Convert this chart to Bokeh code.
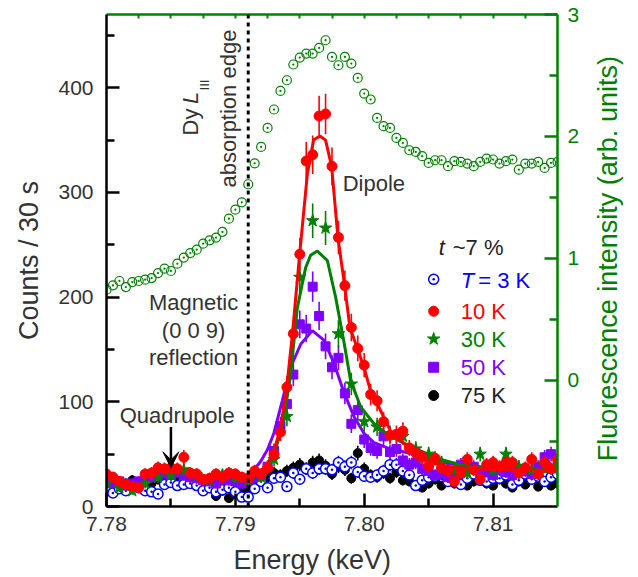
import math
import numpy as np
from bokeh.plotting import figure
from bokeh.layouts import row, column
from bokeh.core.properties import value
from bokeh.models import (Range1d, LinearAxis, FixedTicker, PrintfTickFormatter,
                          Span, Label, Arrow, VeeHead)
from bokeh.embed import file_html
from bokeh.resources import INLINE

# ---------------- data ----------------
energy = np.round(7.78 + 0.0005 * np.arange(71), 4)   # scan grid (keV)
energy_30K = energy[::2]

fluorescence = [0.744, 0.779, 0.815, 0.765, 0.806, 0.815, 0.826, 0.839, 0.880, 0.916,
                0.897, 0.957, 1.007, 1.044, 1.072, 1.121, 1.148, 1.171, 1.217, 1.326,
                1.400, 1.460, 1.608, 1.780, 1.914, 2.070, 2.221, 2.373, 2.461, 2.590,
                2.647, 2.680, 2.680, 2.726, 2.789, 2.652, 2.584, 2.652, 2.598, 2.480,
                2.352, 2.303, 2.152, 2.084, 2.070, 1.988, 1.947, 1.887, 1.873, 1.838,
                1.783, 1.805, 1.805, 1.756, 1.797, 1.791, 1.778, 1.756, 1.791, 1.819,
                1.811, 1.778, 1.797, 1.811, 1.728, 1.778, 1.778, 1.791, 1.742, 1.783,
                1.791]

counts_10K = [31, 28, 24, 21, 19, 18, 31, 32, 37, 36,
              37, 36, 47, 32, 31, 26, 27, 31, 28, 32,
              31, 28, 27, 34, 31, 37, 50, 71, 114, 165,
              241, 330, 336, 373, 375, 325, 257, 211, 171, 151,
              135, 107, 101, 81, 68, 69, 72, 56, 51, 47,
              39, 46, 37, 34, 24, 32, 45, 35, 26, 40,
              42, 38, 42, 42, 32, 37, 45, 31, 42, 36, 45]

counts_30K = [22, 18, 15, 22, 28, 30, 35, 30, 25, 30,
              28, 25, 28, 45, 86, 219, 273, 266, 165, 117,
              81, 76, 69, 67, 55, 50, 42, 35, 32, 50,
              35, 50, 38, 35, 40, 38]

counts_50K = [25, 22, 24, 20, 22, 24, 26, 28, 30, 32,
              30, 33, 30, 28, 27, 25, 24, 22, 26, 25,
              24, 22, 26, 28, 30, 38, 53, 77, 98, 126,
              174, 170, 210, 182, 153, 133, 142, 108, 79, 92,
              64, 56, 53, 67, 52, 55, 44, 40, 42, 36,
              34, 30, 32, 28, 33, 40, 36, 38, 32, 34,
              30, 35, 33, 30, 36, 34, 31, 38, 47, 50, 38]

counts_3K = [18, 13, 17, 15, 20, 18, 15, 14, 12, 21,
             23, 20, 21, 22, 20, 15, 18, 14, 16, 18,
             14, 9, 9, 17, 24, 18, 27, 28, 19, 32,
             26, 36, 32, 36, 36, 35, 42, 38, 42, 33,
             29, 28, 30, 34, 40, 40, 34, 30, 20, 25,
             28, 29, 31, 24, 29, 21, 27, 31, 25, 24,
             27, 27, 30, 21, 25, 31, 26, 29, 24, 28, 31]

counts_75K = [22, 20, 18, 22, 25, 20, 18, 22, 26, 28,
              25, 30, 22, 24, 20, 22, 18, 10, 15, 8,
              12, 16, 18, 20, 26, 28, 32, 30, 34, 37,
              40, 36, 42, 44, 39, 31, 38, 35, 27, 51,
              36, 30, 28, 32, 27, 33, 25, 24, 20, 18,
              22, 26, 20, 24, 22, 28, 20, 24, 32, 22,
              20, 26, 22, 18, 24, 21, 26, 19, 24, 20, 22]

fit_10K_energy = [7.7910, 7.79144, 7.79196, 7.79248, 7.79299, 7.79351, 7.79398, 7.79444,
                  7.79499, 7.79559, 7.79607, 7.79656, 7.7970, 7.79747, 7.79796, 7.79848,
                  7.79889, 7.79947, 7.79998, 7.8005, 7.80102, 7.80153, 7.80205, 7.80257,
                  7.80309, 7.80386, 7.8049, 7.80594, 7.80827, 7.81137, 7.815]
fit_10K = [28, 31, 34, 40, 53, 75, 113, 166, 241, 318, 350, 354, 350, 325, 257, 211,
           171, 151, 133, 110, 98, 85, 72, 66, 60, 52, 44, 39, 36, 35, 34]

fit_30K_energy = [7.7910, 7.79144, 7.79248, 7.79299, 7.79351, 7.79403, 7.79429, 7.79481,
                  7.79545, 7.79584, 7.79636, 7.79714, 7.79778, 7.79843, 7.79895, 7.79973,
                  7.80076, 7.8018, 7.80283, 7.80386, 7.8049, 7.80594, 7.80749, 7.80982,
                  7.81215, 7.815]
fit_30K = [27, 30, 38, 50, 70, 105, 126, 190, 228, 240, 244, 235, 200, 157, 120, 95,
           79, 69, 62, 56, 50, 45, 40, 36, 34, 33]

fit_50K_energy = [7.7910, 7.79144, 7.79196, 7.79248, 7.79299, 7.79364, 7.79429, 7.79507,
                  7.79597, 7.79687, 7.79765, 7.79843, 7.7992, 7.79998, 7.80076, 7.8018,
                  7.80283, 7.80462, 7.80648, 7.80904, 7.81215, 7.815]
fit_50K = [31, 35, 43, 54, 70, 101, 133, 155, 168, 159, 137, 109, 86, 70, 61, 56,
           53, 47, 41, 38, 36, 35]

edge_energy = 7.791
quadrupole_energy = 7.785
x_ticks = [7.78, 7.79, 7.80, 7.81]
x_minor = [7.785, 7.795, 7.805]
x_top_minor = [7.7825, 7.785, 7.7875, 7.79, 7.7925, 7.795, 7.7975, 7.80, 7.8025,
               7.805, 7.8075, 7.81, 7.8125]
y_ticks = [0, 100, 200, 300, 400]
y_minor = [50, 150, 250, 350, 450]
fl_ticks = [0, 1, 2, 3]
fl_minor = [-0.5, 0.5, 1.5, 2.5]

# ---------------- style ----------------
FONT = "Liberation Sans"
TXT = "#333333"
GREEN = "#008000"
RED = "#ff0000"
BLUE = "#0000ff"
PURPLE = "#8000ff"
BLACK = "#000000"

MAIN_H = 542

p = figure(width=590, height=MAIN_H, x_range=Range1d(7.78, 7.815), y_range=Range1d(0, 470),
           output_backend="svg", toolbar_location=None,
           min_border_left=106, min_border_right=33, min_border_top=14, min_border_bottom=36)
p.xgrid.visible = False
p.ygrid.visible = False
p.outline_line_color = None
p.extra_y_ranges = {"fl": Range1d(-1.034, 3.0)}

xa = p.xaxis[0]
xa.ticker = FixedTicker(ticks=x_ticks, minor_ticks=x_minor)
xa.formatter = PrintfTickFormatter(format="%.2f")
ya = p.yaxis[0]
ya.ticker = FixedTicker(ticks=y_ticks, minor_ticks=y_minor)
ya.axis_label = "Counts / 30 s"
ya.axis_label_standoff = 11
for ax in (xa, ya):
    ax.axis_line_width = 2.5
    ax.axis_line_color = BLACK
    ax.major_tick_line_width = 2.5
    ax.minor_tick_line_width = 2.5
    ax.major_tick_in = 13
    ax.major_tick_out = 0
    ax.minor_tick_in = 8
    ax.minor_tick_out = 0
    ax.major_label_text_font = FONT
    ax.major_label_text_font_size = "21px"
    ax.major_label_text_color = TXT
    ax.axis_label_text_font = FONT
    ax.axis_label_text_font_size = "27px"
    ax.axis_label_text_font_style = "normal"
    ax.axis_label_text_color = TXT
xa.major_label_standoff = 10
ya.major_label_standoff = 13

ra = LinearAxis(y_range_name="fl", ticker=FixedTicker(ticks=fl_ticks, minor_ticks=fl_minor))
ra.axis_line_width = 2.5
ra.axis_line_color = GREEN
ra.major_tick_line_color = GREEN
ra.minor_tick_line_color = GREEN
ra.major_tick_line_width = 2.5
ra.minor_tick_line_width = 2.5
ra.major_tick_in = 13
ra.major_tick_out = 0
ra.minor_tick_in = 8
ra.minor_tick_out = 0
ra.major_label_text_font = FONT
ra.major_label_text_font_size = "21px"
ra.major_label_text_color = GREEN
ra.major_label_standoff = 10
p.add_layout(ra, "right")

ta = LinearAxis(ticker=FixedTicker(ticks=[], minor_ticks=x_top_minor))
ta.axis_line_width = 2.5
ta.axis_line_color = GREEN
ta.minor_tick_line_color = GREEN
ta.minor_tick_line_width = 2
ta.minor_tick_in = 4
ta.minor_tick_out = 0
ta.major_tick_in = 0
ta.major_tick_out = 0
p.add_layout(ta, "above")

# absorption edge
p.add_layout(Span(location=edge_energy, dimension="height", line_color=BLACK,
                  line_width=3, line_dash="4 4"))

# fluorescence (right axis)
p.scatter(energy, fluorescence, y_range_name="fl", marker="circle_dot", size=9,
          line_color=GREEN, fill_color=None, line_width=1.2)


def errbars(E, c, color):
    c = np.asarray(c, dtype=float)
    e = np.sqrt(c)
    p.segment(x0=E, y0=c - e, x1=E, y1=c + e, line_color=color, line_width=1.6)


# 75 K
errbars(energy, counts_75K, BLACK)
p.scatter(energy, counts_75K, marker="circle", size=9, fill_color=BLACK, line_color=BLACK)
# 3 K
errbars(energy, counts_3K, BLUE)
p.scatter(energy, counts_3K, marker="circle_dot", size=10, fill_color="white",
          line_color=BLUE, line_width=1.5)
# 50 K
errbars(energy, counts_50K, PURPLE)
p.scatter(energy, counts_50K, marker="square", size=9, fill_color=PURPLE, line_color=PURPLE)
p.line(fit_50K_energy, fit_50K, line_color=PURPLE, line_width=3)
# 30 K
errbars(energy_30K, counts_30K, GREEN)
p.scatter(energy_30K, counts_30K, marker="star", size=13, fill_color=GREEN, line_color=GREEN)
p.line(fit_30K_energy, fit_30K, line_color=GREEN, line_width=3)
# 10 K
errbars(energy, counts_10K, RED)
p.scatter(energy, counts_10K, marker="circle", size=10, fill_color=RED, line_color=RED)
p.line(fit_10K_energy, fit_10K, line_color=RED, line_width=3)


def label(x, y, text, color=TXT, size="22px", style="normal", align="left",
          baseline="middle", angle=0.0):
    p.add_layout(Label(x=x, y=y, text=text, text_color=color, text_font=FONT,
                       text_font_size=size, text_font_style=style, text_align=align,
                       text_baseline=baseline, angle=angle))


# legend
leg_x_marker = 7.80539
leg_x_text = 7.80749
leg_rows = [(217, "circle_dot", BLUE, "white"), (186.5, "circle", RED, RED),
            (160, "star", GREEN, GREEN), (133, "square", PURPLE, PURPLE),
            (106, "circle", BLACK, BLACK)]
for yy, mk, lc, fc in leg_rows:
    p.scatter([leg_x_marker], [yy], marker=mk, size=13 if mk == "star" else 10,
              line_color=lc, fill_color=fc, line_width=1.5 if mk == "circle_dot" else 1)
label(leg_x_text, 216, "T", color=BLUE, style="italic")
label(7.80885, 216, "= 3 K", color=BLUE)
label(leg_x_text, 186.5, "10 K", color=RED)
label(leg_x_text, 160, "30 K", color=GREEN)
label(leg_x_text, 133, "50 K", color=PURPLE)
label(leg_x_text, 106, "75 K", color="#222222")
label(7.80578, 247.5, "t", style="italic", color="#222222")
label(7.80687, 247.5, "~7 %", color="#222222")

label(7.79833, 308.5, "Dipole")
label(7.78676, 195, "Magnetic", align="center")
label(7.78676, 168, "(0 0 9)", align="center")
label(7.78676, 142, "reflection", align="center")
label(7.78549, 86.6, "Quadrupole", align="center")
p.add_layout(Arrow(end=VeeHead(size=16, fill_color=BLACK, line_color=BLACK),
                   x_start=quadrupole_energy, y_start=76, x_end=quadrupole_energy, y_end=37,
                   line_color=BLACK, line_width=2.5))

# rotated edge annotation
label(7.78944, 380.2, "absorption edge", align="center", angle=math.pi / 2)
label(7.78650, 354.4, "Dy", angle=math.pi / 2)
label(7.78650, 384.5, "L", style="italic", angle=math.pi / 2)
label(7.78757, 397.5, "III", size="13px", angle=math.pi / 2)


def strip(w, h):
    f = figure(width=w, height=h, x_range=Range1d(0, w), y_range=Range1d(0, h),
               output_backend="svg", toolbar_location=None,
               min_border=0, min_border_left=0, min_border_right=0,
               min_border_top=0, min_border_bottom=0,
               x_axis_location=None, y_axis_location=None)
    f.outline_line_color = None
    f.xgrid.visible = False
    f.ygrid.visible = False
    return f


# right-hand axis title
p2 = strip(48, MAIN_H)
p2.text(x=[17], y=[MAIN_H - 269], text=["Fluorescence intensity (arb. units)"],
        angle=math.pi / 2, text_align="center", text_baseline="middle",
        text_font=value(FONT), text_font_size="27px", text_color=GREEN)

# bottom axis title (sits left of centre in the reference)
p3 = strip(638, 577 - MAIN_H)
p3.text(x=[233], y=[17.3], text=["Energy (keV)"], text_align="left",
        text_baseline="middle", text_font=value(FONT), text_font_size="27px",
        text_color=TXT)

layout = column(row(p, p2, spacing=0), p3, spacing=0)
open("out.html", "w").write(file_html(layout, INLINE))
